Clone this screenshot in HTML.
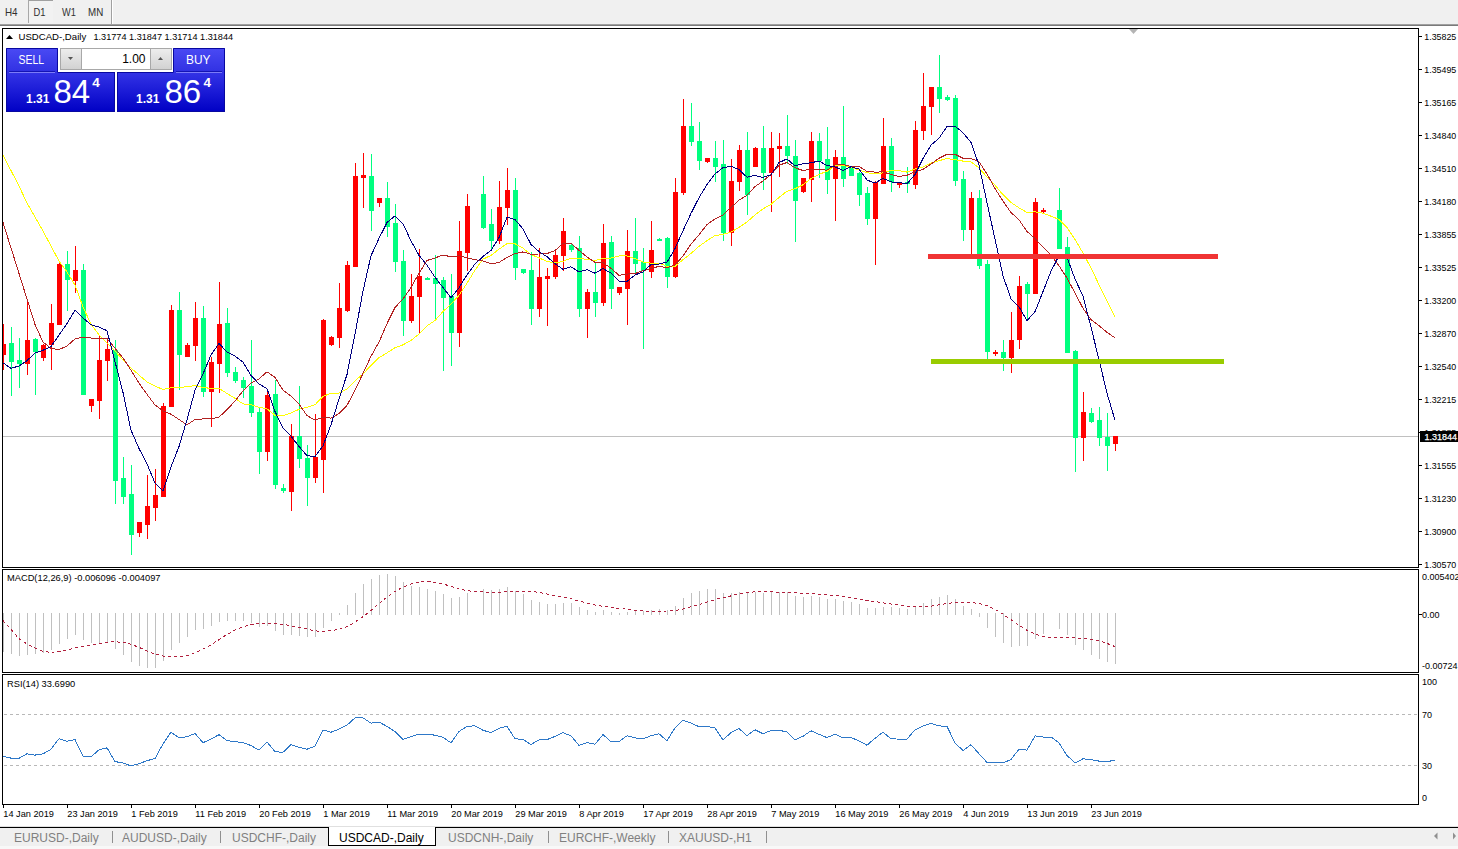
<!DOCTYPE html>
<html><head><meta charset="utf-8"><style>
html,body{margin:0;padding:0;background:#fff;}
body{width:1458px;height:849px;overflow:hidden;position:relative;font-family:"Liberation Sans",sans-serif;}
svg{position:absolute;left:0;top:0;}
svg text{font-family:"Liberation Sans",sans-serif;}
</style></head><body>
<svg width="1458" height="849" viewBox="0 0 1458 849">
<defs>
<linearGradient id="gTab" x1="0" y1="0" x2="0" y2="1"><stop offset="0" stop-color="#4A4AF4"/><stop offset="1" stop-color="#3030E2"/></linearGradient>
<linearGradient id="gBig" x1="0" y1="0" x2="0" y2="1"><stop offset="0" stop-color="#3434E6"/><stop offset="0.5" stop-color="#1A1AD6"/><stop offset="1" stop-color="#0000C4"/></linearGradient>
<linearGradient id="gBtn" x1="0" y1="0" x2="0" y2="1"><stop offset="0" stop-color="#EDEDED"/><stop offset="1" stop-color="#D2D2D2"/></linearGradient>
<clipPath id="cMain"><rect x="3" y="29" width="1415" height="538"/></clipPath>
<clipPath id="cMacd"><rect x="3" y="570" width="1415" height="102"/></clipPath>
<clipPath id="cRsi"><rect x="3" y="675" width="1415" height="129"/></clipPath>
</defs>
<!-- toolbar -->
<rect x="0" y="0" width="1458" height="24" fill="#F0F0F0"/>
<rect x="0" y="24" width="1458" height="1" fill="#A0A0A0"/>
<rect x="0" y="25" width="1458" height="1" fill="#7A7A7A"/>
<rect x="28" y="0" width="1" height="23" fill="#A8A8A8"/>
<rect x="29" y="0" width="24" height="1" fill="#A0A0A0"/>
<rect x="29" y="1" width="24" height="22" fill="#F2F2F2"/>
<rect x="111" y="0" width="1" height="24" fill="#A0A0A0"/>
<rect x="112" y="0" width="1" height="24" fill="#FFFFFF"/>
<g font-size="10.2" fill="#303030">
<text x="5" y="15.6" textLength="12.6" lengthAdjust="spacingAndGlyphs">H4</text><text x="33.6" y="15.6" textLength="12" lengthAdjust="spacingAndGlyphs">D1</text><text x="62" y="15.6" textLength="13.8" lengthAdjust="spacingAndGlyphs">W1</text><text x="88" y="15.6" textLength="15.2" lengthAdjust="spacingAndGlyphs">MN</text>
</g>
<!-- frames -->
<rect x="2.5" y="28.5" width="1416" height="539" fill="#fff" stroke="#000" stroke-width="1"/>
<rect x="2.5" y="569.5" width="1416" height="103" fill="#fff" stroke="#000" stroke-width="1"/>
<rect x="2.5" y="674.5" width="1416" height="130" fill="#fff" stroke="#000" stroke-width="1"/>
<polygon points="1129,29 1138,29 1133.5,34" fill="#B4B4B4"/>
<!-- main chart -->
<g clip-path="url(#cMain)">
<rect x="3" y="436" width="1415" height="1" fill="#C0C0C0"/>
<g shape-rendering="crispEdges">
<rect x="3" y="324" width="1" height="46" fill="#FF0000"/>
<rect x="1" y="344" width="5" height="11" fill="#FF0000"/>
<rect x="11" y="327" width="1" height="69" fill="#00FF7F"/>
<rect x="9" y="343" width="5" height="19" fill="#00FF7F"/>
<rect x="19" y="338" width="1" height="50" fill="#00FF7F"/>
<rect x="17" y="360" width="5" height="4" fill="#00FF7F"/>
<rect x="27" y="300" width="1" height="75" fill="#FF0000"/>
<rect x="25" y="340" width="5" height="24" fill="#FF0000"/>
<rect x="35" y="338" width="1" height="57" fill="#00FF7F"/>
<rect x="33" y="339" width="5" height="13" fill="#00FF7F"/>
<rect x="43" y="344" width="1" height="17" fill="#FF0000"/>
<rect x="41" y="345" width="5" height="13" fill="#FF0000"/>
<rect x="51" y="304" width="1" height="66" fill="#FF0000"/>
<rect x="49" y="323" width="5" height="22" fill="#FF0000"/>
<rect x="59" y="262" width="1" height="63" fill="#FF0000"/>
<rect x="57" y="264" width="5" height="61" fill="#FF0000"/>
<rect x="67" y="251" width="1" height="60" fill="#00FF7F"/>
<rect x="65" y="264" width="5" height="16" fill="#00FF7F"/>
<rect x="75" y="246" width="1" height="47" fill="#FF0000"/>
<rect x="73" y="270" width="5" height="11" fill="#FF0000"/>
<rect x="83" y="264" width="1" height="131" fill="#00FF7F"/>
<rect x="81" y="270" width="5" height="125" fill="#00FF7F"/>
<rect x="91" y="399" width="1" height="13" fill="#FF0000"/>
<rect x="89" y="399" width="5" height="7" fill="#FF0000"/>
<rect x="99" y="335" width="1" height="84" fill="#FF0000"/>
<rect x="97" y="360" width="5" height="41" fill="#FF0000"/>
<rect x="107" y="340" width="1" height="41" fill="#FF0000"/>
<rect x="105" y="349" width="5" height="12" fill="#FF0000"/>
<rect x="115" y="340" width="1" height="164" fill="#00FF7F"/>
<rect x="113" y="350" width="5" height="131" fill="#00FF7F"/>
<rect x="123" y="457" width="1" height="47" fill="#00FF7F"/>
<rect x="121" y="478" width="5" height="19" fill="#00FF7F"/>
<rect x="131" y="465" width="1" height="90" fill="#00FF7F"/>
<rect x="129" y="494" width="5" height="41" fill="#00FF7F"/>
<rect x="139" y="522" width="1" height="15" fill="#FF0000"/>
<rect x="137" y="522" width="5" height="11" fill="#FF0000"/>
<rect x="147" y="475" width="1" height="64" fill="#FF0000"/>
<rect x="145" y="506" width="5" height="19" fill="#FF0000"/>
<rect x="155" y="469" width="1" height="52" fill="#FF0000"/>
<rect x="153" y="495" width="5" height="13" fill="#FF0000"/>
<rect x="163" y="403" width="1" height="94" fill="#FF0000"/>
<rect x="161" y="406" width="5" height="91" fill="#FF0000"/>
<rect x="171" y="305" width="1" height="102" fill="#FF0000"/>
<rect x="169" y="310" width="5" height="97" fill="#FF0000"/>
<rect x="179" y="292" width="1" height="98" fill="#00FF7F"/>
<rect x="177" y="310" width="5" height="45" fill="#00FF7F"/>
<rect x="187" y="343" width="1" height="14" fill="#FF0000"/>
<rect x="185" y="345" width="5" height="12" fill="#FF0000"/>
<rect x="195" y="302" width="1" height="59" fill="#FF0000"/>
<rect x="193" y="318" width="5" height="28" fill="#FF0000"/>
<rect x="203" y="306" width="1" height="91" fill="#00FF7F"/>
<rect x="201" y="318" width="5" height="74" fill="#00FF7F"/>
<rect x="211" y="357" width="1" height="70" fill="#FF0000"/>
<rect x="209" y="362" width="5" height="30" fill="#FF0000"/>
<rect x="219" y="282" width="1" height="111" fill="#FF0000"/>
<rect x="217" y="324" width="5" height="40" fill="#FF0000"/>
<rect x="227" y="308" width="1" height="69" fill="#00FF7F"/>
<rect x="225" y="323" width="5" height="50" fill="#00FF7F"/>
<rect x="235" y="367" width="1" height="16" fill="#00FF7F"/>
<rect x="233" y="372" width="5" height="9" fill="#00FF7F"/>
<rect x="243" y="377" width="1" height="21" fill="#00FF7F"/>
<rect x="241" y="380" width="5" height="8" fill="#00FF7F"/>
<rect x="251" y="340" width="1" height="77" fill="#00FF7F"/>
<rect x="249" y="386" width="5" height="27" fill="#00FF7F"/>
<rect x="259" y="408" width="1" height="66" fill="#00FF7F"/>
<rect x="257" y="412" width="5" height="40" fill="#00FF7F"/>
<rect x="267" y="391" width="1" height="70" fill="#FF0000"/>
<rect x="265" y="395" width="5" height="57" fill="#FF0000"/>
<rect x="275" y="380" width="1" height="109" fill="#00FF7F"/>
<rect x="273" y="394" width="5" height="91" fill="#00FF7F"/>
<rect x="283" y="484" width="1" height="9" fill="#00FF7F"/>
<rect x="281" y="488" width="5" height="3" fill="#00FF7F"/>
<rect x="291" y="424" width="1" height="87" fill="#FF0000"/>
<rect x="289" y="436" width="5" height="56" fill="#FF0000"/>
<rect x="299" y="386" width="1" height="82" fill="#00FF7F"/>
<rect x="297" y="436" width="5" height="23" fill="#00FF7F"/>
<rect x="307" y="445" width="1" height="61" fill="#00FF7F"/>
<rect x="305" y="458" width="5" height="20" fill="#00FF7F"/>
<rect x="315" y="414" width="1" height="69" fill="#FF0000"/>
<rect x="313" y="457" width="5" height="21" fill="#FF0000"/>
<rect x="323" y="319" width="1" height="174" fill="#FF0000"/>
<rect x="321" y="320" width="5" height="140" fill="#FF0000"/>
<rect x="331" y="336" width="1" height="10" fill="#FF0000"/>
<rect x="329" y="337" width="5" height="8" fill="#FF0000"/>
<rect x="339" y="283" width="1" height="65" fill="#FF0000"/>
<rect x="337" y="308" width="5" height="30" fill="#FF0000"/>
<rect x="347" y="261" width="1" height="51" fill="#FF0000"/>
<rect x="345" y="265" width="5" height="46" fill="#FF0000"/>
<rect x="355" y="163" width="1" height="104" fill="#FF0000"/>
<rect x="353" y="176" width="5" height="91" fill="#FF0000"/>
<rect x="363" y="153" width="1" height="55" fill="#FF0000"/>
<rect x="361" y="175" width="5" height="3" fill="#FF0000"/>
<rect x="371" y="154" width="1" height="77" fill="#00FF7F"/>
<rect x="369" y="176" width="5" height="35" fill="#00FF7F"/>
<rect x="379" y="198" width="1" height="9" fill="#FF0000"/>
<rect x="377" y="198" width="5" height="5" fill="#FF0000"/>
<rect x="387" y="182" width="1" height="55" fill="#00FF7F"/>
<rect x="385" y="198" width="5" height="29" fill="#00FF7F"/>
<rect x="395" y="204" width="1" height="68" fill="#00FF7F"/>
<rect x="393" y="223" width="5" height="39" fill="#00FF7F"/>
<rect x="403" y="250" width="1" height="86" fill="#00FF7F"/>
<rect x="401" y="261" width="5" height="60" fill="#00FF7F"/>
<rect x="411" y="274" width="1" height="49" fill="#FF0000"/>
<rect x="409" y="296" width="5" height="25" fill="#FF0000"/>
<rect x="419" y="249" width="1" height="84" fill="#FF0000"/>
<rect x="417" y="276" width="5" height="21" fill="#FF0000"/>
<rect x="427" y="277" width="1" height="3" fill="#00FF7F"/>
<rect x="425" y="278" width="5" height="2" fill="#00FF7F"/>
<rect x="435" y="255" width="1" height="66" fill="#00FF7F"/>
<rect x="433" y="278" width="5" height="6" fill="#00FF7F"/>
<rect x="443" y="277" width="1" height="94" fill="#00FF7F"/>
<rect x="441" y="280" width="5" height="18" fill="#00FF7F"/>
<rect x="451" y="274" width="1" height="92" fill="#00FF7F"/>
<rect x="449" y="296" width="5" height="37" fill="#00FF7F"/>
<rect x="459" y="221" width="1" height="126" fill="#FF0000"/>
<rect x="457" y="251" width="5" height="82" fill="#FF0000"/>
<rect x="467" y="194" width="1" height="77" fill="#FF0000"/>
<rect x="465" y="206" width="5" height="47" fill="#FF0000"/>
<rect x="483" y="176" width="1" height="53" fill="#00FF7F"/>
<rect x="481" y="194" width="5" height="34" fill="#00FF7F"/>
<rect x="491" y="209" width="1" height="40" fill="#00FF7F"/>
<rect x="489" y="224" width="5" height="17" fill="#00FF7F"/>
<rect x="499" y="181" width="1" height="63" fill="#FF0000"/>
<rect x="497" y="207" width="5" height="34" fill="#FF0000"/>
<rect x="507" y="168" width="1" height="57" fill="#FF0000"/>
<rect x="505" y="190" width="5" height="18" fill="#FF0000"/>
<rect x="515" y="178" width="1" height="102" fill="#00FF7F"/>
<rect x="513" y="190" width="5" height="78" fill="#00FF7F"/>
<rect x="523" y="269" width="1" height="5" fill="#00FF7F"/>
<rect x="521" y="269" width="5" height="4" fill="#00FF7F"/>
<rect x="531" y="252" width="1" height="73" fill="#00FF7F"/>
<rect x="529" y="270" width="5" height="39" fill="#00FF7F"/>
<rect x="539" y="248" width="1" height="69" fill="#FF0000"/>
<rect x="537" y="277" width="5" height="32" fill="#FF0000"/>
<rect x="547" y="268" width="1" height="58" fill="#FF0000"/>
<rect x="545" y="276" width="5" height="3" fill="#FF0000"/>
<rect x="555" y="250" width="1" height="29" fill="#FF0000"/>
<rect x="553" y="255" width="5" height="22" fill="#FF0000"/>
<rect x="563" y="218" width="1" height="53" fill="#FF0000"/>
<rect x="561" y="231" width="5" height="25" fill="#FF0000"/>
<rect x="571" y="243" width="1" height="9" fill="#00FF7F"/>
<rect x="569" y="245" width="5" height="5" fill="#00FF7F"/>
<rect x="579" y="236" width="1" height="81" fill="#00FF7F"/>
<rect x="577" y="248" width="5" height="61" fill="#00FF7F"/>
<rect x="587" y="289" width="1" height="49" fill="#FF0000"/>
<rect x="585" y="292" width="5" height="17" fill="#FF0000"/>
<rect x="595" y="262" width="1" height="55" fill="#00FF7F"/>
<rect x="593" y="292" width="5" height="11" fill="#00FF7F"/>
<rect x="603" y="224" width="1" height="82" fill="#FF0000"/>
<rect x="601" y="243" width="5" height="60" fill="#FF0000"/>
<rect x="611" y="236" width="1" height="73" fill="#00FF7F"/>
<rect x="609" y="242" width="5" height="47" fill="#00FF7F"/>
<rect x="619" y="287" width="1" height="8" fill="#FF0000"/>
<rect x="617" y="287" width="5" height="6" fill="#FF0000"/>
<rect x="627" y="230" width="1" height="95" fill="#FF0000"/>
<rect x="625" y="251" width="5" height="38" fill="#FF0000"/>
<rect x="635" y="218" width="1" height="55" fill="#00FF7F"/>
<rect x="633" y="251" width="5" height="13" fill="#00FF7F"/>
<rect x="643" y="248" width="1" height="101" fill="#00FF7F"/>
<rect x="641" y="262" width="5" height="9" fill="#00FF7F"/>
<rect x="651" y="221" width="1" height="57" fill="#FF0000"/>
<rect x="649" y="250" width="5" height="22" fill="#FF0000"/>
<rect x="659" y="238" width="1" height="3" fill="#00FF7F"/>
<rect x="657" y="239" width="5" height="2" fill="#00FF7F"/>
<rect x="667" y="237" width="1" height="51" fill="#00FF7F"/>
<rect x="665" y="238" width="5" height="39" fill="#00FF7F"/>
<rect x="675" y="178" width="1" height="100" fill="#FF0000"/>
<rect x="673" y="192" width="5" height="85" fill="#FF0000"/>
<rect x="683" y="99" width="1" height="96" fill="#FF0000"/>
<rect x="681" y="126" width="5" height="67" fill="#FF0000"/>
<rect x="691" y="103" width="1" height="43" fill="#00FF7F"/>
<rect x="689" y="126" width="5" height="16" fill="#00FF7F"/>
<rect x="699" y="122" width="1" height="48" fill="#00FF7F"/>
<rect x="697" y="141" width="5" height="20" fill="#00FF7F"/>
<rect x="707" y="158" width="1" height="5" fill="#FF0000"/>
<rect x="705" y="158" width="5" height="4" fill="#FF0000"/>
<rect x="715" y="141" width="1" height="41" fill="#00FF7F"/>
<rect x="713" y="158" width="5" height="9" fill="#00FF7F"/>
<rect x="723" y="140" width="1" height="101" fill="#00FF7F"/>
<rect x="721" y="164" width="5" height="69" fill="#00FF7F"/>
<rect x="731" y="159" width="1" height="87" fill="#FF0000"/>
<rect x="729" y="181" width="5" height="52" fill="#FF0000"/>
<rect x="739" y="145" width="1" height="46" fill="#FF0000"/>
<rect x="737" y="150" width="5" height="32" fill="#FF0000"/>
<rect x="747" y="132" width="1" height="83" fill="#00FF7F"/>
<rect x="745" y="150" width="5" height="45" fill="#00FF7F"/>
<rect x="755" y="147" width="1" height="20" fill="#FF0000"/>
<rect x="753" y="148" width="5" height="19" fill="#FF0000"/>
<rect x="763" y="126" width="1" height="64" fill="#00FF7F"/>
<rect x="761" y="148" width="5" height="25" fill="#00FF7F"/>
<rect x="771" y="132" width="1" height="80" fill="#FF0000"/>
<rect x="769" y="148" width="5" height="25" fill="#FF0000"/>
<rect x="779" y="133" width="1" height="44" fill="#FF0000"/>
<rect x="777" y="146" width="5" height="3" fill="#FF0000"/>
<rect x="787" y="115" width="1" height="49" fill="#00FF7F"/>
<rect x="785" y="146" width="5" height="10" fill="#00FF7F"/>
<rect x="795" y="140" width="1" height="102" fill="#00FF7F"/>
<rect x="793" y="156" width="5" height="45" fill="#00FF7F"/>
<rect x="803" y="178" width="1" height="15" fill="#FF0000"/>
<rect x="801" y="178" width="5" height="14" fill="#FF0000"/>
<rect x="811" y="132" width="1" height="70" fill="#FF0000"/>
<rect x="809" y="141" width="5" height="39" fill="#FF0000"/>
<rect x="819" y="133" width="1" height="45" fill="#00FF7F"/>
<rect x="817" y="141" width="5" height="20" fill="#00FF7F"/>
<rect x="827" y="127" width="1" height="67" fill="#00FF7F"/>
<rect x="825" y="159" width="5" height="21" fill="#00FF7F"/>
<rect x="835" y="150" width="1" height="71" fill="#FF0000"/>
<rect x="833" y="157" width="5" height="22" fill="#FF0000"/>
<rect x="843" y="106" width="1" height="81" fill="#00FF7F"/>
<rect x="841" y="157" width="5" height="22" fill="#00FF7F"/>
<rect x="851" y="166" width="1" height="10" fill="#00FF7F"/>
<rect x="849" y="167" width="5" height="9" fill="#00FF7F"/>
<rect x="859" y="172" width="1" height="34" fill="#00FF7F"/>
<rect x="857" y="173" width="5" height="22" fill="#00FF7F"/>
<rect x="867" y="187" width="1" height="38" fill="#00FF7F"/>
<rect x="865" y="193" width="5" height="26" fill="#00FF7F"/>
<rect x="875" y="181" width="1" height="84" fill="#FF0000"/>
<rect x="873" y="182" width="5" height="37" fill="#FF0000"/>
<rect x="883" y="118" width="1" height="66" fill="#FF0000"/>
<rect x="881" y="146" width="5" height="38" fill="#FF0000"/>
<rect x="891" y="138" width="1" height="54" fill="#00FF7F"/>
<rect x="889" y="146" width="5" height="36" fill="#00FF7F"/>
<rect x="899" y="182" width="1" height="6" fill="#FF0000"/>
<rect x="897" y="182" width="5" height="3" fill="#FF0000"/>
<rect x="907" y="167" width="1" height="26" fill="#00FF7F"/>
<rect x="905" y="182" width="5" height="2" fill="#00FF7F"/>
<rect x="915" y="121" width="1" height="68" fill="#FF0000"/>
<rect x="913" y="130" width="5" height="55" fill="#FF0000"/>
<rect x="923" y="73" width="1" height="67" fill="#FF0000"/>
<rect x="921" y="106" width="5" height="25" fill="#FF0000"/>
<rect x="931" y="87" width="1" height="48" fill="#FF0000"/>
<rect x="929" y="87" width="5" height="20" fill="#FF0000"/>
<rect x="939" y="55" width="1" height="58" fill="#00FF7F"/>
<rect x="937" y="87" width="5" height="12" fill="#00FF7F"/>
<rect x="947" y="95" width="1" height="6" fill="#00FF7F"/>
<rect x="945" y="97" width="5" height="3" fill="#00FF7F"/>
<rect x="955" y="95" width="1" height="91" fill="#00FF7F"/>
<rect x="953" y="98" width="5" height="83" fill="#00FF7F"/>
<rect x="963" y="171" width="1" height="70" fill="#00FF7F"/>
<rect x="961" y="179" width="5" height="51" fill="#00FF7F"/>
<rect x="971" y="192" width="1" height="63" fill="#FF0000"/>
<rect x="969" y="198" width="5" height="32" fill="#FF0000"/>
<rect x="979" y="190" width="1" height="79" fill="#00FF7F"/>
<rect x="977" y="198" width="5" height="68" fill="#00FF7F"/>
<rect x="987" y="260" width="1" height="99" fill="#00FF7F"/>
<rect x="985" y="264" width="5" height="88" fill="#00FF7F"/>
<rect x="995" y="350" width="1" height="6" fill="#FF0000"/>
<rect x="993" y="352" width="5" height="2" fill="#FF0000"/>
<rect x="1003" y="340" width="1" height="31" fill="#00FF7F"/>
<rect x="1001" y="352" width="5" height="6" fill="#00FF7F"/>
<rect x="1011" y="312" width="1" height="61" fill="#FF0000"/>
<rect x="1009" y="340" width="5" height="18" fill="#FF0000"/>
<rect x="1019" y="276" width="1" height="73" fill="#FF0000"/>
<rect x="1017" y="286" width="5" height="54" fill="#FF0000"/>
<rect x="1027" y="282" width="1" height="38" fill="#00FF7F"/>
<rect x="1025" y="284" width="5" height="10" fill="#00FF7F"/>
<rect x="1035" y="198" width="1" height="96" fill="#FF0000"/>
<rect x="1033" y="202" width="5" height="92" fill="#FF0000"/>
<rect x="1043" y="208" width="1" height="6" fill="#FF0000"/>
<rect x="1041" y="210" width="5" height="2" fill="#FF0000"/>
<rect x="1059" y="188" width="1" height="61" fill="#00FF7F"/>
<rect x="1057" y="210" width="5" height="39" fill="#00FF7F"/>
<rect x="1067" y="237" width="1" height="116" fill="#00FF7F"/>
<rect x="1065" y="247" width="5" height="106" fill="#00FF7F"/>
<rect x="1075" y="350" width="1" height="122" fill="#00FF7F"/>
<rect x="1073" y="351" width="5" height="87" fill="#00FF7F"/>
<rect x="1083" y="392" width="1" height="69" fill="#FF0000"/>
<rect x="1081" y="412" width="5" height="26" fill="#FF0000"/>
<rect x="1091" y="408" width="1" height="15" fill="#00FF7F"/>
<rect x="1089" y="413" width="5" height="9" fill="#00FF7F"/>
<rect x="1099" y="407" width="1" height="39" fill="#00FF7F"/>
<rect x="1097" y="420" width="5" height="18" fill="#00FF7F"/>
<rect x="1107" y="413" width="1" height="58" fill="#00FF7F"/>
<rect x="1105" y="437" width="5" height="9" fill="#00FF7F"/>
<rect x="1115" y="436" width="1" height="15" fill="#FF0000"/>
<rect x="1113" y="436" width="5" height="8" fill="#FF0000"/>
</g>
<g shape-rendering="crispEdges">
<polyline points="3,155.3 11,170.5 19,186.0 27,203.0 35,217.0 43,231.0 51,246.0 59,261.0 67,272.0 75,285.0 83,307.0 91,324.0 99,335.0 107,343.0 115,351.0 123,360.0 131,368.0 139,375.0 147,382.0 155,386.0 163,389.5 171,387.8 179,387.5 187,386.7 195,385.6 203,387.5 211,388.4 219,388.4 227,393.5 235,398.3 243,403.9 251,404.8 259,407.2 267,408.9 275,415.3 283,415.8 291,412.9 299,409.3 307,407.2 315,404.8 323,396.5 331,393.2 339,393.1 347,388.9 355,380.8 363,374.0 371,365.4 379,357.6 387,352.9 395,347.7 403,344.8 411,340.5 419,334.0 427,325.9 435,320.5 443,311.6 451,304.1 459,295.3 467,283.3 475,270.1 483,259.2 491,255.4 499,249.2 507,243.6 515,243.7 523,248.2 531,254.6 539,257.8 547,261.5 555,262.9 563,261.4 571,258.0 579,258.6 587,259.3 595,260.4 603,258.5 611,258.1 619,255.9 627,255.9 635,258.6 643,262.0 651,263.1 659,263.1 667,266.3 675,266.4 683,259.7 691,253.4 699,246.4 707,240.7 715,235.5 723,234.4 731,232.0 739,227.3 747,221.9 755,215.0 763,208.8 771,204.3 779,197.5 787,191.2 795,188.8 803,184.8 811,178.6 819,174.3 827,171.4 835,165.8 843,165.1 851,167.4 859,170.0 867,172.7 875,173.9 883,172.9 891,170.5 899,170.6 907,172.1 915,169.1 923,167.1 931,163.1 939,160.7 947,158.5 955,159.7 963,161.1 971,162.0 979,167.9 987,177.0 995,185.2 1003,194.7 1011,202.5 1019,207.8 1027,212.5 1035,211.8 1043,213.1 1051,216.2 1059,219.4 1067,227.4 1075,239.5 1083,253.0 1091,268.0 1099,284.7 1107,301.2 1115,317.3" fill="none" stroke="#FFFF00" stroke-width="1"/>
<polyline points="3,222.4 11,248.0 19,273.5 27,299.0 35,324.5 43,342.0 51,348.5 59,349.6 67,346.0 75,339.0 83,337.0 91,338.0 99,339.0 107,338.6 115,348.3 123,358.0 131,370.2 139,383.2 147,394.3 155,405.0 163,410.9 171,414.2 179,419.5 187,424.9 195,419.5 203,418.9 211,419.0 219,417.2 227,409.5 235,401.2 243,390.8 251,382.9 259,379.0 267,371.8 275,377.4 283,390.2 291,396.1 299,404.2 307,415.5 315,420.2 323,417.2 331,418.1 339,413.6 347,405.4 355,390.3 363,373.4 371,356.2 379,342.1 387,323.7 395,307.4 403,299.1 411,287.6 419,273.2 427,260.5 435,257.9 443,255.0 451,256.8 459,255.8 467,257.9 475,259.7 483,260.9 491,263.9 499,262.5 507,257.4 515,253.6 523,251.9 531,254.2 539,254.0 547,253.6 555,250.6 563,243.3 571,243.2 579,250.4 587,257.0 595,262.4 603,262.6 611,268.4 619,275.3 627,274.1 635,273.5 643,270.8 651,268.8 659,266.2 667,267.7 675,264.9 683,256.1 691,244.2 699,234.8 707,224.5 715,219.0 723,215.0 731,207.4 739,200.2 747,195.3 755,186.6 763,181.0 771,174.4 779,165.2 787,162.5 795,167.8 803,170.5 811,169.1 819,169.2 827,170.2 835,164.8 843,164.6 851,166.4 859,166.4 867,171.4 875,172.1 883,171.9 891,174.4 899,176.4 907,175.2 915,171.8 923,169.3 931,164.1 939,158.3 947,154.2 955,154.3 963,158.2 971,158.5 979,161.8 987,173.9 995,188.6 1003,201.2 1011,212.5 1019,219.8 1027,231.5 1035,238.4 1043,247.2 1051,255.2 1059,265.8 1067,278.1 1075,293.0 1083,308.3 1091,319.5 1099,325.7 1107,332.3 1115,337.9" fill="none" stroke="#B22222" stroke-width="1"/>
<polyline points="3,362.8 11,368.3 19,366.0 27,360.6 35,353.0 43,350.3 51,346.5 59,335.1 67,323.5 75,310.2 83,317.9 91,324.8 99,327.0 107,330.7 115,361.6 123,392.5 131,430.2 139,448.5 147,463.8 155,483.0 163,491.1 171,466.9 179,446.5 187,419.6 195,390.4 203,374.0 211,355.0 219,343.3 227,352.1 235,356.0 243,362.0 251,375.4 259,383.9 267,388.6 275,411.4 283,428.3 291,436.3 299,446.4 307,455.7 315,456.5 323,445.8 331,424.8 339,398.9 347,374.5 355,334.2 363,291.1 371,255.8 379,238.4 387,222.5 395,215.9 403,223.8 411,240.9 419,255.4 427,265.2 435,277.3 443,287.5 451,297.7 459,287.7 467,274.8 475,264.0 483,256.5 491,250.4 499,237.6 507,217.2 515,219.5 523,229.0 531,244.4 539,251.6 547,256.7 555,263.6 563,269.4 571,266.8 579,271.9 587,269.6 595,273.2 603,268.5 611,273.2 619,281.2 627,281.5 635,275.0 643,271.9 651,264.5 659,264.0 667,262.2 675,248.6 683,230.7 691,213.4 699,197.7 707,184.5 715,174.0 723,167.7 731,166.2 739,169.6 747,177.2 755,175.4 763,177.4 771,174.9 779,162.6 787,158.9 795,165.9 803,163.7 811,162.7 819,161.1 827,165.5 835,167.0 843,170.3 851,166.8 859,169.0 867,180.0 875,183.1 883,178.4 891,181.9 899,182.5 907,183.7 915,174.5 923,158.6 931,145.0 939,138.2 947,126.5 955,126.1 963,132.7 971,142.4 979,165.1 987,202.8 995,239.1 1003,275.9 1011,298.8 1019,306.9 1027,320.6 1035,311.7 1043,291.6 1051,271.3 1059,255.7 1067,257.4 1075,279.0 1083,296.0 1091,327.3 1099,359.7 1107,393.3 1115,420.2" fill="none" stroke="#000080" stroke-width="1"/>
</g>
<rect x="928" y="254" width="290" height="5" fill="#F03434"/>
<rect x="931" y="359" width="293" height="5" fill="#99CC00"/>
</g>
<g font-size="9.6" fill="#000">
<rect x="1419" y="36" width="3" height="1" fill="#000"/>
<text x="1424.3" y="39.5" textLength="32" lengthAdjust="spacingAndGlyphs">1.35825</text>
<rect x="1419" y="69" width="3" height="1" fill="#000"/>
<text x="1424.3" y="72.5" textLength="32" lengthAdjust="spacingAndGlyphs">1.35495</text>
<rect x="1419" y="102" width="3" height="1" fill="#000"/>
<text x="1424.3" y="105.5" textLength="32" lengthAdjust="spacingAndGlyphs">1.35165</text>
<rect x="1419" y="135" width="3" height="1" fill="#000"/>
<text x="1424.3" y="138.5" textLength="32" lengthAdjust="spacingAndGlyphs">1.34840</text>
<rect x="1419" y="168" width="3" height="1" fill="#000"/>
<text x="1424.3" y="171.5" textLength="32" lengthAdjust="spacingAndGlyphs">1.34510</text>
<rect x="1419" y="201" width="3" height="1" fill="#000"/>
<text x="1424.3" y="204.5" textLength="32" lengthAdjust="spacingAndGlyphs">1.34180</text>
<rect x="1419" y="234" width="3" height="1" fill="#000"/>
<text x="1424.3" y="237.5" textLength="32" lengthAdjust="spacingAndGlyphs">1.33855</text>
<rect x="1419" y="267" width="3" height="1" fill="#000"/>
<text x="1424.3" y="270.5" textLength="32" lengthAdjust="spacingAndGlyphs">1.33525</text>
<rect x="1419" y="300" width="3" height="1" fill="#000"/>
<text x="1424.3" y="303.5" textLength="32" lengthAdjust="spacingAndGlyphs">1.33200</text>
<rect x="1419" y="333" width="3" height="1" fill="#000"/>
<text x="1424.3" y="336.5" textLength="32" lengthAdjust="spacingAndGlyphs">1.32870</text>
<rect x="1419" y="366" width="3" height="1" fill="#000"/>
<text x="1424.3" y="369.5" textLength="32" lengthAdjust="spacingAndGlyphs">1.32540</text>
<rect x="1419" y="399" width="3" height="1" fill="#000"/>
<text x="1424.3" y="402.5" textLength="32" lengthAdjust="spacingAndGlyphs">1.32215</text>
<rect x="1419" y="432" width="3" height="1" fill="#000"/>
<text x="1424.3" y="435.5" textLength="32" lengthAdjust="spacingAndGlyphs">1.31885</text>
<rect x="1419" y="465" width="3" height="1" fill="#000"/>
<text x="1424.3" y="468.5" textLength="32" lengthAdjust="spacingAndGlyphs">1.31555</text>
<rect x="1419" y="498" width="3" height="1" fill="#000"/>
<text x="1424.3" y="501.5" textLength="32" lengthAdjust="spacingAndGlyphs">1.31230</text>
<rect x="1419" y="531" width="3" height="1" fill="#000"/>
<text x="1424.3" y="534.5" textLength="32" lengthAdjust="spacingAndGlyphs">1.30900</text>
<rect x="1419" y="564" width="3" height="1" fill="#000"/>
<text x="1424.3" y="567.5" textLength="32" lengthAdjust="spacingAndGlyphs">1.30570</text>
</g>
<rect x="1420" y="431" width="38" height="11" fill="#000"/>
<text x="1424.5" y="440" font-size="9" fill="#fff" stroke="#fff" stroke-width="0.25">1.31844</text>
<!-- chart title -->
<polygon points="6,39 13,39 9.5,35" fill="#000"/>
<text x="18.5" y="40" font-size="9.6" fill="#000">USDCAD-,Daily</text><text x="93.5" y="40" font-size="9.15" fill="#000">1.31774 1.31847 1.31714 1.31844</text>
<!-- one click panel -->
<rect x="6" y="72" width="109" height="40" fill="url(#gBig)"/>
<rect x="6.5" y="72.5" width="108" height="39" fill="none" stroke="#0808A0"/>
<rect x="117" y="72" width="108" height="40" fill="url(#gBig)"/>
<rect x="117.5" y="72.5" width="107" height="39" fill="none" stroke="#0808A0"/>
<rect x="6" y="48" width="52" height="25" fill="url(#gTab)"/>
<path d="M6.5,73 V48.5 H57.5 V72.5" fill="none" stroke="#0808A0"/>
<rect x="9" y="71" width="46" height="1" fill="#1414B4"/>
<rect x="9" y="72" width="46" height="1" fill="#7C7CF8"/>
<rect x="173" y="48" width="52" height="25" fill="url(#gTab)"/>
<path d="M173.5,72.5 V48.5 H224.5 V73" fill="none" stroke="#0808A0"/>
<rect x="176" y="71" width="46" height="1" fill="#1414B4"/>
<rect x="176" y="72" width="46" height="1" fill="#7C7CF8"/>
<rect x="60.5" y="48.5" width="111" height="21" fill="#fff" stroke="#A8A8A8"/>
<rect x="61" y="49" width="20" height="20" fill="url(#gBtn)"/>
<rect x="81" y="49" width="1" height="20" fill="#A8A8A8"/>
<rect x="151" y="49" width="20" height="20" fill="url(#gBtn)"/>
<rect x="150" y="49" width="1" height="20" fill="#A8A8A8"/>
<polygon points="68,57 73,57 70.5,60" fill="#555"/>
<polygon points="158,60 163,60 160.5,57" fill="#555"/>
<text x="145.5" y="63" font-size="12" text-anchor="end" fill="#000">1.00</text>
<g fill="#fff">
<text x="18.5" y="64" font-size="12.5" textLength="25.5" lengthAdjust="spacingAndGlyphs">SELL</text>
<text x="186" y="64" font-size="12.5" textLength="24.5" lengthAdjust="spacingAndGlyphs">BUY</text>
<text x="26" y="103" font-size="12" font-weight="bold">1.31</text>
<text x="53.5" y="103" font-size="33">84</text>
<text x="92.3" y="87" font-size="12.5" font-weight="bold" textLength="7.5" lengthAdjust="spacingAndGlyphs">4</text>
<text x="136" y="103" font-size="12" font-weight="bold">1.31</text>
<text x="164.5" y="103" font-size="33">86</text>
<text x="203.6" y="87" font-size="12.5" font-weight="bold" textLength="7.5" lengthAdjust="spacingAndGlyphs">4</text>
</g>
<!-- MACD -->
<g clip-path="url(#cMacd)" shape-rendering="crispEdges">
<rect x="3" y="613" width="1" height="39" fill="#C0C0C0"/>
<rect x="11" y="613" width="1" height="41" fill="#C0C0C0"/>
<rect x="19" y="613" width="1" height="43" fill="#C0C0C0"/>
<rect x="27" y="613" width="1" height="42" fill="#C0C0C0"/>
<rect x="35" y="613" width="1" height="41" fill="#C0C0C0"/>
<rect x="43" y="613" width="1" height="40" fill="#C0C0C0"/>
<rect x="51" y="613" width="1" height="37" fill="#C0C0C0"/>
<rect x="59" y="613" width="1" height="31" fill="#C0C0C0"/>
<rect x="67" y="613" width="1" height="26" fill="#C0C0C0"/>
<rect x="75" y="613" width="1" height="22" fill="#C0C0C0"/>
<rect x="83" y="613" width="1" height="27" fill="#C0C0C0"/>
<rect x="91" y="613" width="1" height="30" fill="#C0C0C0"/>
<rect x="99" y="613" width="1" height="30" fill="#C0C0C0"/>
<rect x="107" y="613" width="1" height="29" fill="#C0C0C0"/>
<rect x="115" y="613" width="1" height="36" fill="#C0C0C0"/>
<rect x="123" y="613" width="1" height="42" fill="#C0C0C0"/>
<rect x="131" y="613" width="1" height="49" fill="#C0C0C0"/>
<rect x="139" y="613" width="1" height="53" fill="#C0C0C0"/>
<rect x="147" y="613" width="1" height="55" fill="#C0C0C0"/>
<rect x="155" y="613" width="1" height="55" fill="#C0C0C0"/>
<rect x="163" y="613" width="1" height="48" fill="#C0C0C0"/>
<rect x="171" y="613" width="1" height="37" fill="#C0C0C0"/>
<rect x="179" y="613" width="1" height="30" fill="#C0C0C0"/>
<rect x="187" y="613" width="1" height="24" fill="#C0C0C0"/>
<rect x="195" y="613" width="1" height="17" fill="#C0C0C0"/>
<rect x="203" y="613" width="1" height="16" fill="#C0C0C0"/>
<rect x="211" y="613" width="1" height="13" fill="#C0C0C0"/>
<rect x="219" y="613" width="1" height="9" fill="#C0C0C0"/>
<rect x="227" y="613" width="1" height="8" fill="#C0C0C0"/>
<rect x="235" y="613" width="1" height="8" fill="#C0C0C0"/>
<rect x="243" y="613" width="1" height="8" fill="#C0C0C0"/>
<rect x="251" y="613" width="1" height="10" fill="#C0C0C0"/>
<rect x="259" y="613" width="1" height="14" fill="#C0C0C0"/>
<rect x="267" y="613" width="1" height="13" fill="#C0C0C0"/>
<rect x="275" y="613" width="1" height="18" fill="#C0C0C0"/>
<rect x="283" y="613" width="1" height="22" fill="#C0C0C0"/>
<rect x="291" y="613" width="1" height="22" fill="#C0C0C0"/>
<rect x="299" y="613" width="1" height="23" fill="#C0C0C0"/>
<rect x="307" y="613" width="1" height="24" fill="#C0C0C0"/>
<rect x="315" y="613" width="1" height="24" fill="#C0C0C0"/>
<rect x="323" y="613" width="1" height="15" fill="#C0C0C0"/>
<rect x="331" y="613" width="1" height="8" fill="#C0C0C0"/>
<rect x="339" y="613" width="1" height="2" fill="#C0C0C0"/>
<rect x="347" y="605" width="1" height="10" fill="#C0C0C0"/>
<rect x="355" y="593" width="1" height="22" fill="#C0C0C0"/>
<rect x="363" y="584" width="1" height="31" fill="#C0C0C0"/>
<rect x="371" y="579" width="1" height="36" fill="#C0C0C0"/>
<rect x="379" y="575" width="1" height="40" fill="#C0C0C0"/>
<rect x="387" y="574" width="1" height="41" fill="#C0C0C0"/>
<rect x="395" y="576" width="1" height="39" fill="#C0C0C0"/>
<rect x="403" y="582" width="1" height="33" fill="#C0C0C0"/>
<rect x="411" y="586" width="1" height="29" fill="#C0C0C0"/>
<rect x="419" y="587" width="1" height="28" fill="#C0C0C0"/>
<rect x="427" y="589" width="1" height="26" fill="#C0C0C0"/>
<rect x="435" y="591" width="1" height="24" fill="#C0C0C0"/>
<rect x="443" y="594" width="1" height="21" fill="#C0C0C0"/>
<rect x="451" y="598" width="1" height="17" fill="#C0C0C0"/>
<rect x="459" y="597" width="1" height="18" fill="#C0C0C0"/>
<rect x="467" y="593" width="1" height="22" fill="#C0C0C0"/>
<rect x="483" y="589" width="1" height="26" fill="#C0C0C0"/>
<rect x="491" y="590" width="1" height="25" fill="#C0C0C0"/>
<rect x="499" y="589" width="1" height="26" fill="#C0C0C0"/>
<rect x="507" y="587" width="1" height="28" fill="#C0C0C0"/>
<rect x="515" y="591" width="1" height="24" fill="#C0C0C0"/>
<rect x="523" y="594" width="1" height="21" fill="#C0C0C0"/>
<rect x="531" y="600" width="1" height="15" fill="#C0C0C0"/>
<rect x="539" y="602" width="1" height="13" fill="#C0C0C0"/>
<rect x="547" y="604" width="1" height="11" fill="#C0C0C0"/>
<rect x="555" y="604" width="1" height="11" fill="#C0C0C0"/>
<rect x="563" y="603" width="1" height="12" fill="#C0C0C0"/>
<rect x="571" y="603" width="1" height="12" fill="#C0C0C0"/>
<rect x="579" y="607" width="1" height="8" fill="#C0C0C0"/>
<rect x="587" y="610" width="1" height="5" fill="#C0C0C0"/>
<rect x="595" y="612" width="1" height="3" fill="#C0C0C0"/>
<rect x="603" y="610" width="1" height="5" fill="#C0C0C0"/>
<rect x="611" y="612" width="1" height="3" fill="#C0C0C0"/>
<rect x="619" y="613" width="1" height="2" fill="#C0C0C0"/>
<rect x="627" y="612" width="1" height="3" fill="#C0C0C0"/>
<rect x="635" y="611" width="1" height="4" fill="#C0C0C0"/>
<rect x="643" y="611" width="1" height="4" fill="#C0C0C0"/>
<rect x="651" y="610" width="1" height="5" fill="#C0C0C0"/>
<rect x="659" y="609" width="1" height="6" fill="#C0C0C0"/>
<rect x="667" y="610" width="1" height="5" fill="#C0C0C0"/>
<rect x="675" y="606" width="1" height="9" fill="#C0C0C0"/>
<rect x="683" y="598" width="1" height="17" fill="#C0C0C0"/>
<rect x="691" y="593" width="1" height="22" fill="#C0C0C0"/>
<rect x="699" y="591" width="1" height="24" fill="#C0C0C0"/>
<rect x="707" y="589" width="1" height="26" fill="#C0C0C0"/>
<rect x="715" y="589" width="1" height="26" fill="#C0C0C0"/>
<rect x="723" y="593" width="1" height="22" fill="#C0C0C0"/>
<rect x="731" y="593" width="1" height="22" fill="#C0C0C0"/>
<rect x="739" y="592" width="1" height="23" fill="#C0C0C0"/>
<rect x="747" y="593" width="1" height="22" fill="#C0C0C0"/>
<rect x="755" y="592" width="1" height="23" fill="#C0C0C0"/>
<rect x="763" y="593" width="1" height="22" fill="#C0C0C0"/>
<rect x="771" y="592" width="1" height="23" fill="#C0C0C0"/>
<rect x="779" y="592" width="1" height="23" fill="#C0C0C0"/>
<rect x="787" y="592" width="1" height="23" fill="#C0C0C0"/>
<rect x="795" y="596" width="1" height="19" fill="#C0C0C0"/>
<rect x="803" y="597" width="1" height="18" fill="#C0C0C0"/>
<rect x="811" y="596" width="1" height="19" fill="#C0C0C0"/>
<rect x="819" y="597" width="1" height="18" fill="#C0C0C0"/>
<rect x="827" y="599" width="1" height="16" fill="#C0C0C0"/>
<rect x="835" y="599" width="1" height="16" fill="#C0C0C0"/>
<rect x="843" y="601" width="1" height="14" fill="#C0C0C0"/>
<rect x="851" y="602" width="1" height="13" fill="#C0C0C0"/>
<rect x="859" y="604" width="1" height="11" fill="#C0C0C0"/>
<rect x="867" y="608" width="1" height="7" fill="#C0C0C0"/>
<rect x="875" y="608" width="1" height="7" fill="#C0C0C0"/>
<rect x="883" y="607" width="1" height="8" fill="#C0C0C0"/>
<rect x="891" y="607" width="1" height="8" fill="#C0C0C0"/>
<rect x="899" y="608" width="1" height="7" fill="#C0C0C0"/>
<rect x="907" y="609" width="1" height="6" fill="#C0C0C0"/>
<rect x="915" y="606" width="1" height="9" fill="#C0C0C0"/>
<rect x="923" y="603" width="1" height="12" fill="#C0C0C0"/>
<rect x="931" y="599" width="1" height="16" fill="#C0C0C0"/>
<rect x="939" y="597" width="1" height="18" fill="#C0C0C0"/>
<rect x="947" y="595" width="1" height="20" fill="#C0C0C0"/>
<rect x="955" y="599" width="1" height="16" fill="#C0C0C0"/>
<rect x="963" y="606" width="1" height="9" fill="#C0C0C0"/>
<rect x="971" y="609" width="1" height="6" fill="#C0C0C0"/>
<rect x="979" y="613" width="1" height="4" fill="#C0C0C0"/>
<rect x="987" y="613" width="1" height="15" fill="#C0C0C0"/>
<rect x="995" y="613" width="1" height="24" fill="#C0C0C0"/>
<rect x="1003" y="613" width="1" height="30" fill="#C0C0C0"/>
<rect x="1011" y="613" width="1" height="34" fill="#C0C0C0"/>
<rect x="1019" y="613" width="1" height="33" fill="#C0C0C0"/>
<rect x="1027" y="613" width="1" height="33" fill="#C0C0C0"/>
<rect x="1035" y="613" width="1" height="26" fill="#C0C0C0"/>
<rect x="1043" y="613" width="1" height="21" fill="#C0C0C0"/>
<rect x="1059" y="613" width="1" height="16" fill="#C0C0C0"/>
<rect x="1067" y="613" width="1" height="22" fill="#C0C0C0"/>
<rect x="1075" y="613" width="1" height="32" fill="#C0C0C0"/>
<rect x="1083" y="613" width="1" height="37" fill="#C0C0C0"/>
<rect x="1091" y="613" width="1" height="42" fill="#C0C0C0"/>
<rect x="1099" y="613" width="1" height="46" fill="#C0C0C0"/>
<rect x="1107" y="613" width="1" height="49" fill="#C0C0C0"/>
<rect x="1115" y="613" width="1" height="51" fill="#C0C0C0"/>
</g>
<g clip-path="url(#cMacd)">
<polyline points="3,620.6 11,629.5 19,638.7 27,643.9 35,648.0 43,651.4 51,652.4 59,651.4 67,649.9 75,648.0 83,646.3 91,644.9 99,643.6 107,642.2 115,641.8 123,642.3 131,644.3 139,647.3 147,650.9 155,654.1 163,656.1 171,656.8 179,657.0 187,655.6 195,652.8 203,649.2 211,644.8 219,639.6 227,634.5 235,630.0 243,626.9 251,624.7 259,623.6 267,623.1 275,623.4 283,624.3 291,625.8 299,627.4 307,629.1 315,630.9 323,631.4 331,630.7 339,629.4 347,626.7 355,622.1 363,616.6 371,610.5 379,603.7 387,596.9 395,591.4 403,587.1 411,584.0 419,582.0 427,581.6 435,582.3 443,583.9 451,586.4 459,588.9 467,590.7 475,591.5 483,591.9 491,592.2 499,592.2 507,591.8 515,591.5 523,591.1 531,591.4 539,592.4 547,594.0 555,595.7 563,597.1 571,598.7 579,601.0 587,603.1 595,605.1 603,606.3 611,607.4 619,608.4 627,609.2 635,610.1 643,611.0 651,611.3 659,611.2 667,611.0 675,610.5 683,609.0 691,606.8 699,604.5 707,602.1 715,599.6 723,597.6 731,595.9 739,593.8 747,592.5 755,591.8 763,591.7 771,591.8 779,592.1 787,592.4 795,592.7 803,593.2 811,593.7 819,594.1 827,594.8 835,595.5 843,596.5 851,597.7 859,599.0 867,600.4 875,601.6 883,602.8 891,604.0 899,605.0 907,606.1 915,606.7 923,606.8 931,606.2 939,604.9 947,603.4 955,602.6 963,602.5 971,602.6 979,603.4 987,605.7 995,609.3 1003,614.2 1011,619.7 1019,625.2 1027,630.3 1035,633.9 1043,636.5 1051,637.9 1059,638.0 1067,637.9 1075,638.0 1083,638.3 1091,639.3 1099,640.8 1107,643.4 1115,646.6" fill="none" stroke="#B01E3C" stroke-width="1" stroke-dasharray="3,3" shape-rendering="crispEdges"/>
</g>
<text x="7" y="581" font-size="9.3" fill="#000">MACD(12,26,9) -0.006096 -0.004097</text>
<g font-size="9" fill="#000">
<text x="1422" y="580">0.005402</text>
<rect x="1419" y="614" width="3" height="1" fill="#000"/>
<text x="1422" y="618">0.00</text>
<text x="1422" y="669">-0.00724</text>
</g>
<!-- RSI -->
<g clip-path="url(#cRsi)">
<line x1="4" y1="714.5" x2="1418" y2="714.5" stroke="#B8B8B8" stroke-dasharray="3,3"/>
<line x1="4" y1="765.5" x2="1418" y2="765.5" stroke="#B8B8B8" stroke-dasharray="3,3"/>
<polyline points="3,756.4 11,758.1 19,758.3 27,753.8 35,755.1 43,753.8 51,749.3 59,738.7 67,741.2 75,739.6 83,756.2 91,756.9 99,749.8 107,747.9 115,761.6 123,762.9 131,765.9 139,763.7 147,760.7 155,758.5 163,743.9 171,732.2 179,737.7 187,736.7 195,733.5 203,742.7 211,739.1 219,734.7 227,740.6 235,741.7 243,742.5 251,745.6 259,750.2 267,742.0 275,751.7 283,752.3 291,744.7 299,747.2 307,749.2 315,746.3 323,730.0 331,732.2 339,729.2 347,725.1 355,717.9 363,717.8 371,723.2 379,722.1 387,726.4 395,731.7 403,739.5 411,736.5 419,734.1 427,734.6 435,735.1 443,737.4 451,742.8 459,731.5 467,726.4 475,725.8 483,730.3 491,732.5 499,728.3 507,726.2 515,738.8 523,739.4 531,744.6 539,739.8 547,739.6 555,736.4 563,732.7 571,735.9 579,745.4 587,742.6 595,744.3 603,734.6 611,741.7 619,741.5 627,735.8 635,737.8 643,739.0 651,735.6 659,733.8 667,740.8 675,727.8 683,720.3 691,723.1 699,726.7 707,726.4 715,728.0 723,740.0 731,732.5 739,728.5 747,735.7 755,729.8 763,733.7 771,730.6 779,730.3 787,731.9 795,739.7 803,736.3 811,730.8 819,734.3 827,737.6 835,734.1 843,737.9 851,737.4 859,741.0 867,745.2 875,738.3 883,732.2 891,738.8 899,739.1 907,739.2 915,729.8 923,726.1 931,723.4 939,725.9 947,726.3 955,743.0 963,750.5 971,744.7 979,753.7 987,762.4 995,762.5 1003,763.0 1011,759.5 1019,749.1 1027,750.1 1035,735.9 1043,737.0 1051,737.0 1059,742.9 1067,755.5 1075,762.9 1083,758.8 1091,759.6 1099,761.1 1107,761.7 1115,760.1" fill="none" stroke="#2E78C8" stroke-width="1" shape-rendering="crispEdges"/>
</g>
<text x="7" y="687" font-size="9.3" fill="#000">RSI(14) 33.6990</text>
<g font-size="9" fill="#000">
<text x="1422" y="685">100</text>
<text x="1422" y="718">70</text>
<text x="1422" y="769">30</text>
<text x="1422" y="801">0</text>
</g>
<!-- date axis -->
<g font-size="9.2" fill="#000">
<rect x="3" y="805" width="1" height="3" fill="#000"/>
<text x="3.3" y="817">14 Jan 2019</text>
<rect x="67" y="805" width="1" height="3" fill="#000"/>
<text x="67.3" y="817">23 Jan 2019</text>
<rect x="131" y="805" width="1" height="3" fill="#000"/>
<text x="131.3" y="817">1 Feb 2019</text>
<rect x="195" y="805" width="1" height="3" fill="#000"/>
<text x="195.3" y="817">11 Feb 2019</text>
<rect x="259" y="805" width="1" height="3" fill="#000"/>
<text x="259.3" y="817">20 Feb 2019</text>
<rect x="323" y="805" width="1" height="3" fill="#000"/>
<text x="323.3" y="817">1 Mar 2019</text>
<rect x="387" y="805" width="1" height="3" fill="#000"/>
<text x="387.3" y="817">11 Mar 2019</text>
<rect x="451" y="805" width="1" height="3" fill="#000"/>
<text x="451.3" y="817">20 Mar 2019</text>
<rect x="515" y="805" width="1" height="3" fill="#000"/>
<text x="515.3" y="817">29 Mar 2019</text>
<rect x="579" y="805" width="1" height="3" fill="#000"/>
<text x="579.3" y="817">8 Apr 2019</text>
<rect x="643" y="805" width="1" height="3" fill="#000"/>
<text x="643.3" y="817">17 Apr 2019</text>
<rect x="707" y="805" width="1" height="3" fill="#000"/>
<text x="707.3" y="817">28 Apr 2019</text>
<rect x="771" y="805" width="1" height="3" fill="#000"/>
<text x="771.3" y="817">7 May 2019</text>
<rect x="835" y="805" width="1" height="3" fill="#000"/>
<text x="835.3" y="817">16 May 2019</text>
<rect x="899" y="805" width="1" height="3" fill="#000"/>
<text x="899.3" y="817">26 May 2019</text>
<rect x="963" y="805" width="1" height="3" fill="#000"/>
<text x="963.3" y="817">4 Jun 2019</text>
<rect x="1027" y="805" width="1" height="3" fill="#000"/>
<text x="1027.3" y="817">13 Jun 2019</text>
<rect x="1091" y="805" width="1" height="3" fill="#000"/>
<text x="1091.3" y="817">23 Jun 2019</text>
</g>
<!-- tabs -->
<rect x="0" y="826" width="1458" height="1" fill="#E0E0E0"/>
<rect x="0" y="827" width="1458" height="1" fill="#000"/>
<rect x="0" y="828" width="1458" height="18" fill="#F0F0F0"/>
<rect x="0" y="846" width="1458" height="3" fill="#F8F8F8"/>
<rect x="328" y="827" width="108" height="19" fill="#fff"/>
<rect x="328" y="827" width="1" height="19" fill="#000"/>
<rect x="435" y="827" width="1" height="19" fill="#000"/>
<rect x="328" y="845" width="108" height="1" fill="#000"/>
<g font-size="12" fill="#808080">
<text x="14" y="842">EURUSD-,Daily</text>
<text x="122" y="842">AUDUSD-,Daily</text>
<text x="232" y="842">USDCHF-,Daily</text>
<text x="339" y="842" fill="#000">USDCAD-,Daily</text>
<text x="448" y="842">USDCNH-,Daily</text>
<text x="559" y="842">EURCHF-,Weekly</text>
<text x="679" y="842">XAUUSD-,H1</text>
<rect x="112" y="831" width="1" height="12" fill="#909090"/>
<rect x="220" y="831" width="1" height="12" fill="#909090"/>
<rect x="548" y="831" width="1" height="12" fill="#909090"/>
<rect x="668" y="831" width="1" height="12" fill="#909090"/>
<rect x="766" y="831" width="1" height="12" fill="#909090"/>
</g>
<polygon points="1434,836 1437.5,832.5 1437.5,839.5" fill="#909090"/>
<polygon points="1456,836 1453,832.5 1453,839.5" fill="#909090"/>
</svg>
</body></html>
